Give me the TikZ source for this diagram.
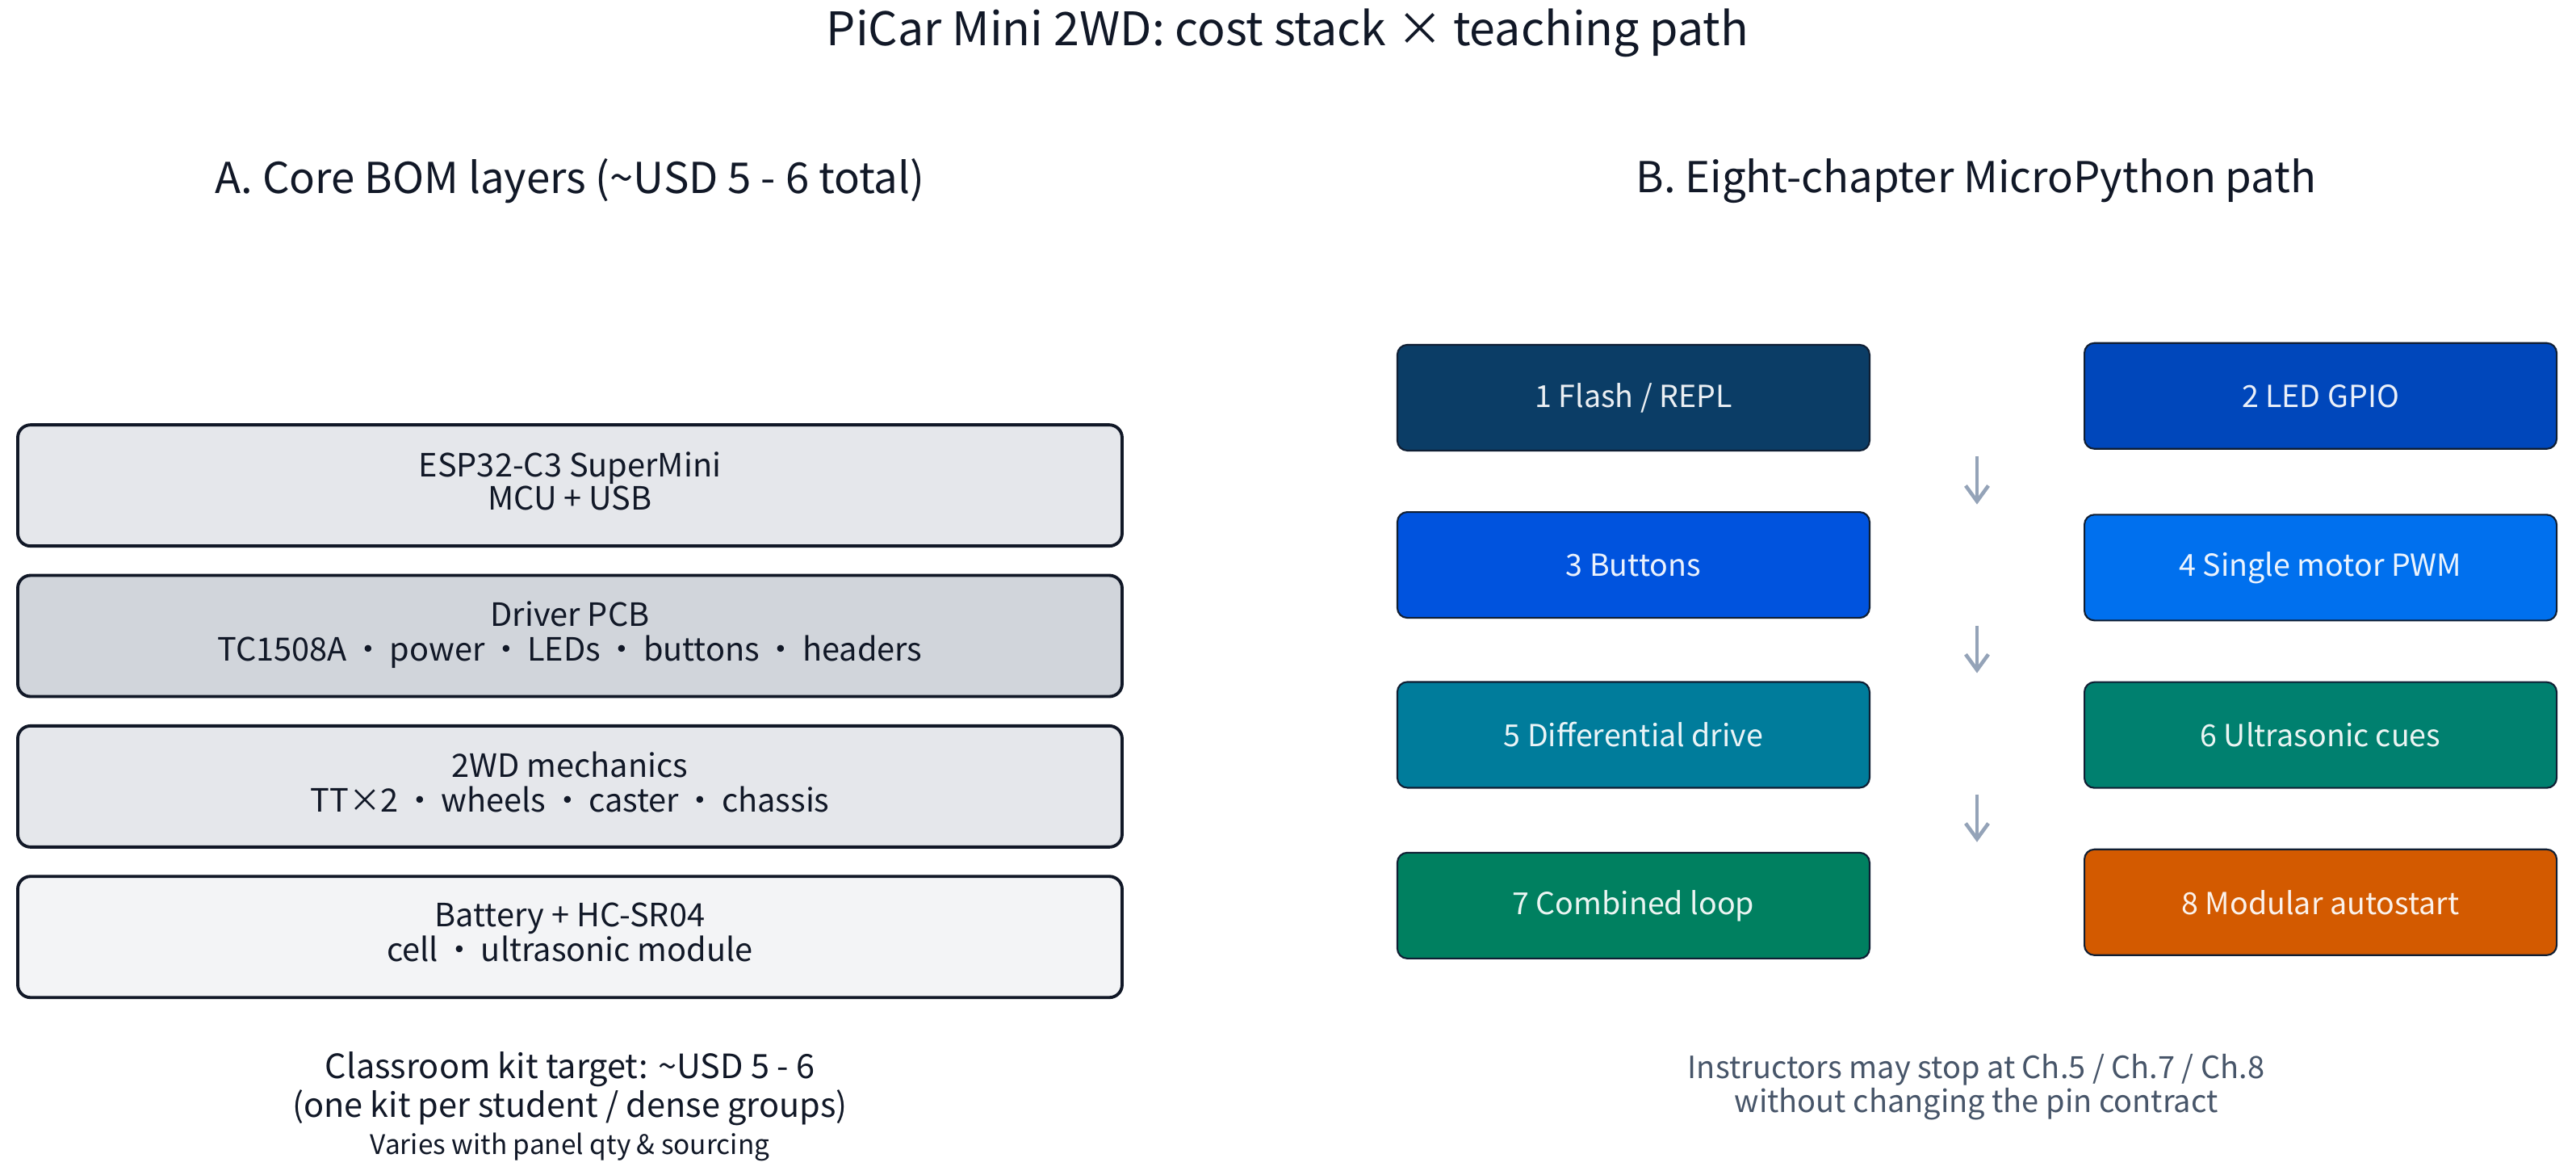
\documentclass[tikz,border=0pt]{standalone}
\usepackage{fontspec}
\setmainfont{Noto Sans CJK JP}
\usepackage{tikz}
\usetikzlibrary{matrix,arrows.meta,calc}

\definecolor{ink}{HTML}{111827}
\definecolor{layA}{HTML}{E5E7EB}
\definecolor{layB}{HTML}{D1D5DB}
\definecolor{layC}{HTML}{E5E7EB}
\definecolor{layD}{HTML}{F3F4F6}
\definecolor{chline}{HTML}{0F1E33}
\definecolor{chA}{HTML}{0B3D66}
\definecolor{chB}{HTML}{0047BB}
\definecolor{chC}{HTML}{0053DE}
\definecolor{chD}{HTML}{0070EE}
\definecolor{chE}{HTML}{007C9B}
\definecolor{chF}{HTML}{00806F}
\definecolor{chG}{HTML}{008060}
\definecolor{chH}{HTML}{D35A00}
\definecolor{flowgrey}{HTML}{94A3B8}
\definecolor{notegrey}{HTML}{475569}

\newcommand\twolines[2]{\begin{tabular}{@{}c@{}}#1\\#2\end{tabular}}
\newcommand\sep{\,・\,}

\tikzset{
  layer/.style={draw=ink, line width=1.1pt, rounded corners=4.5pt, inner sep=0pt,
    minimum width=13.68cm, minimum height=1.50cm, text=ink,
    font=\fontsize{11.3}{11.1}\selectfont},
  chapter/.style={draw=chline, line width=0.6pt, rounded corners=3.5pt, inner sep=0pt,
    minimum width=5.85cm, minimum height=1.31cm, text=white, text opacity=0.92,
    font=\fontsize{10.7}{12}\selectfont},
  flow/.style={-{Straight Barb[length=5.5pt,width=8pt]}, draw=flowgrey, line width=1.3pt},
  heading/.style={text=ink, font=\fontsize{15}{17}\selectfont},
}

\begin{document}
\begin{tikzpicture}
  \path[use as bounding box, fill=white] (0,0) rectangle (31.91,-14.54);

  \node[text=ink, font=\fontsize{16.3}{18}\selectfont] (title) at (15.95,-0.41)
    {PiCar Mini 2WD: cost stack × teaching path};
  \node[heading] (headA) at (7.06,-2.24) {A. Core BOM layers (\textasciitilde USD 5 - 6 total)};
  \node[heading] (headB) at (24.48,-2.24) {B. Eight-chapter MicroPython path};

  % cost stack
  \matrix (bom) [matrix of nodes, nodes={layer}, row sep=0.325cm, inner sep=0pt, anchor=north]
    at (7.06,-5.235)
  {
    |[fill=layA]| \twolines{ESP32-C3 SuperMini}{MCU + USB} \\
    |[fill=layB]| \twolines{Driver PCB}{TC1508A\sep power\sep LEDs\sep buttons\sep headers} \\
    |[fill=layC]| \twolines{2WD mechanics}{TT×2\sep wheels\sep caster\sep chassis} \\
    |[fill=layD]| \twolines{Battery + HC-SR04}{cell\sep ultrasonic module} \\
  };

  % teaching path
  \matrix (path) [matrix of nodes, nodes={chapter}, column sep=2.64cm, row sep=0.74cm,
    inner sep=0pt, anchor=north] at (24.49,-4.23)
  {
    |[fill=chA]| 1 Flash / REPL        & |[fill=chB]| 2 LED GPIO \\
    |[fill=chC]| 3 Buttons             & |[fill=chD]| 4 Single motor PWM \\
    |[fill=chE]| 5 Differential drive  & |[fill=chF]| 6 Ultrasonic cues \\
    |[fill=chG]| 7 Combined loop       & |[fill=chH]| 8 Modular autostart \\
  };

  \foreach \r/\n in {1/2,2/3,3/4}
  {
    \coordinate (out\r) at ($(path-\r-1.south east)!.5!(path-\r-2.south west)+(0,-0.07)$);
    \coordinate (in\n) at ($(path-\n-1.north east)!.5!(path-\n-2.north west)+(0,0.10)$);
    \draw[flow] (out\r) -- (in\n);
  }

  % notes
  \node[text=ink, align=center, font=\fontsize{11.8}{12.2}\selectfont] (kit)
    at (7.06,-13.485) {Classroom kit target: \textasciitilde USD 5 - 6\\(one kit per student / dense groups)};
  \node[text=ink, font=\fontsize{9.5}{11}\selectfont] (kitnote) at (7.06,-14.20)
    {Varies with panel qty \& sourcing};
  \node[text=notegrey, align=center, font=\fontsize{10.8}{11}\selectfont] (stop)
    at (24.48,-13.46) {Instructors may stop at Ch.5 / Ch.7 / Ch.8\\without changing the pin contract};
\end{tikzpicture}
\end{document}
